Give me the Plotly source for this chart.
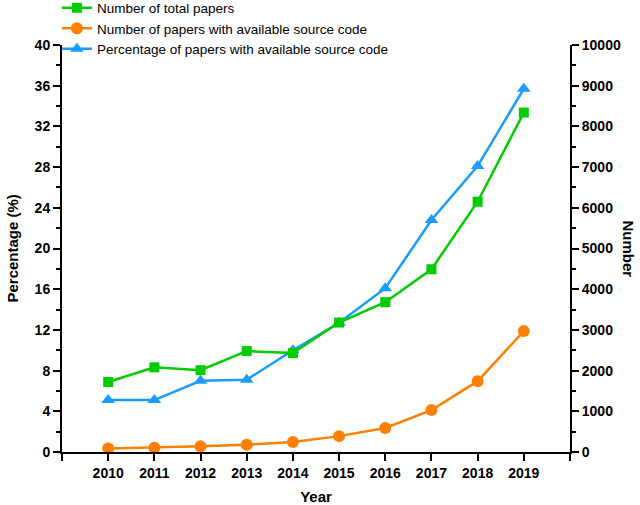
import plotly.graph_objects as go

years = [2010, 2011, 2012, 2013, 2014, 2015, 2016, 2017, 2018, 2019]
total_papers = [1720, 2080, 2010, 2480, 2430, 3180, 3680, 4490, 6150, 8340]
papers_with_code = [85, 105, 140, 180, 245, 390, 590, 1030, 1740, 2970]
percentage_with_code = [5.1, 5.1, 7.0, 7.1, 10.0, 12.7, 16.1, 22.8, 28.1, 35.7]
left_ticks = list(range(0, 41, 4))
right_ticks = list(range(0, 10001, 1000))

green = "#00CC00"
orange = "#FF8000"
blue = "#1A9CFF"
font_family = "Liberation Sans, Arial, sans-serif"

fig = go.Figure()
fig.add_trace(go.Scatter(x=years, y=total_papers, yaxis="y2", mode="lines+markers",
                         name="Number of total papers",
                         line=dict(color=green, width=2.5),
                         marker=dict(symbol="square", size=10, color=green)))
fig.add_trace(go.Scatter(x=years, y=papers_with_code, yaxis="y2", mode="lines+markers",
                         name="Number of papers with available source code",
                         line=dict(color=orange, width=2.5),
                         marker=dict(symbol="circle", size=12, color=orange)))
fig.add_trace(go.Scatter(x=years, y=percentage_with_code, yaxis="y", mode="lines+markers",
                         name="Percentage of papers with available source code",
                         line=dict(color=blue, width=2.5),
                         marker=dict(symbol="triangle-up", size=12, color=blue)))

tickfont = dict(family=font_family, size=14, color="black", weight="bold")
titlefont = dict(family=font_family, size=15, color="black", weight="bold")

fig.update_layout(
    width=640, height=505,
    margin=dict(l=62, r=70, t=45, b=53, autoexpand=False),
    paper_bgcolor="white", plot_bgcolor="white",
    showlegend=True,
    legend=dict(x=-0.01, y=1.129, xanchor="left", yanchor="top",
                font=dict(family=font_family, size=13.5, color="black"),
                bgcolor="rgba(0,0,0,0)", tracegroupgap=0, itemwidth=30),
    xaxis=dict(range=[2009, 2020], tickmode="array", tickvals=list(range(2009, 2021)),
               ticktext=[""] + [str(y) for y in years] + [""],
               showline=True, linecolor="black", linewidth=2,
               ticks="outside", ticklen=7, tickwidth=2, tickcolor="black",
               showgrid=False, zeroline=False, tickfont=tickfont,
               title=dict(text="Year", font=titlefont, standoff=12)),
    yaxis=dict(range=[0, 40], tickmode="array", tickvals=left_ticks,
               ticktext=[str(v) for v in left_ticks],
               showline=True, linecolor="black", linewidth=2,
               ticks="outside", ticklen=7, tickwidth=2, tickcolor="black",
               minor=dict(ticks="outside", ticklen=4, tickwidth=2, tickcolor="black", dtick=2),
               showgrid=False, zeroline=False, tickfont=tickfont),
    yaxis2=dict(range=[0, 10000], tickmode="array", tickvals=right_ticks,
                ticktext=[str(v) for v in right_ticks],
                overlaying="y", side="right",
                showline=True, linecolor="black", linewidth=2,
                ticks="outside", ticklen=7, tickwidth=2, tickcolor="black",
                minor=dict(ticks="outside", ticklen=4, tickwidth=2, tickcolor="black", dtick=500),
                showgrid=False, zeroline=False, tickfont=tickfont),
)

fig.add_annotation(text="Percentage (%)", xref="paper", yref="paper", x=0.0, y=0.5,
                   xshift=-50, xanchor="center", yanchor="middle", textangle=-90,
                   showarrow=False, font=titlefont)
fig.add_annotation(text="Number", xref="paper", yref="paper", x=1.0, y=0.5,
                   xshift=58, xanchor="center", yanchor="middle", textangle=90,
                   showarrow=False, font=titlefont)

fig.write_html("out.html")
